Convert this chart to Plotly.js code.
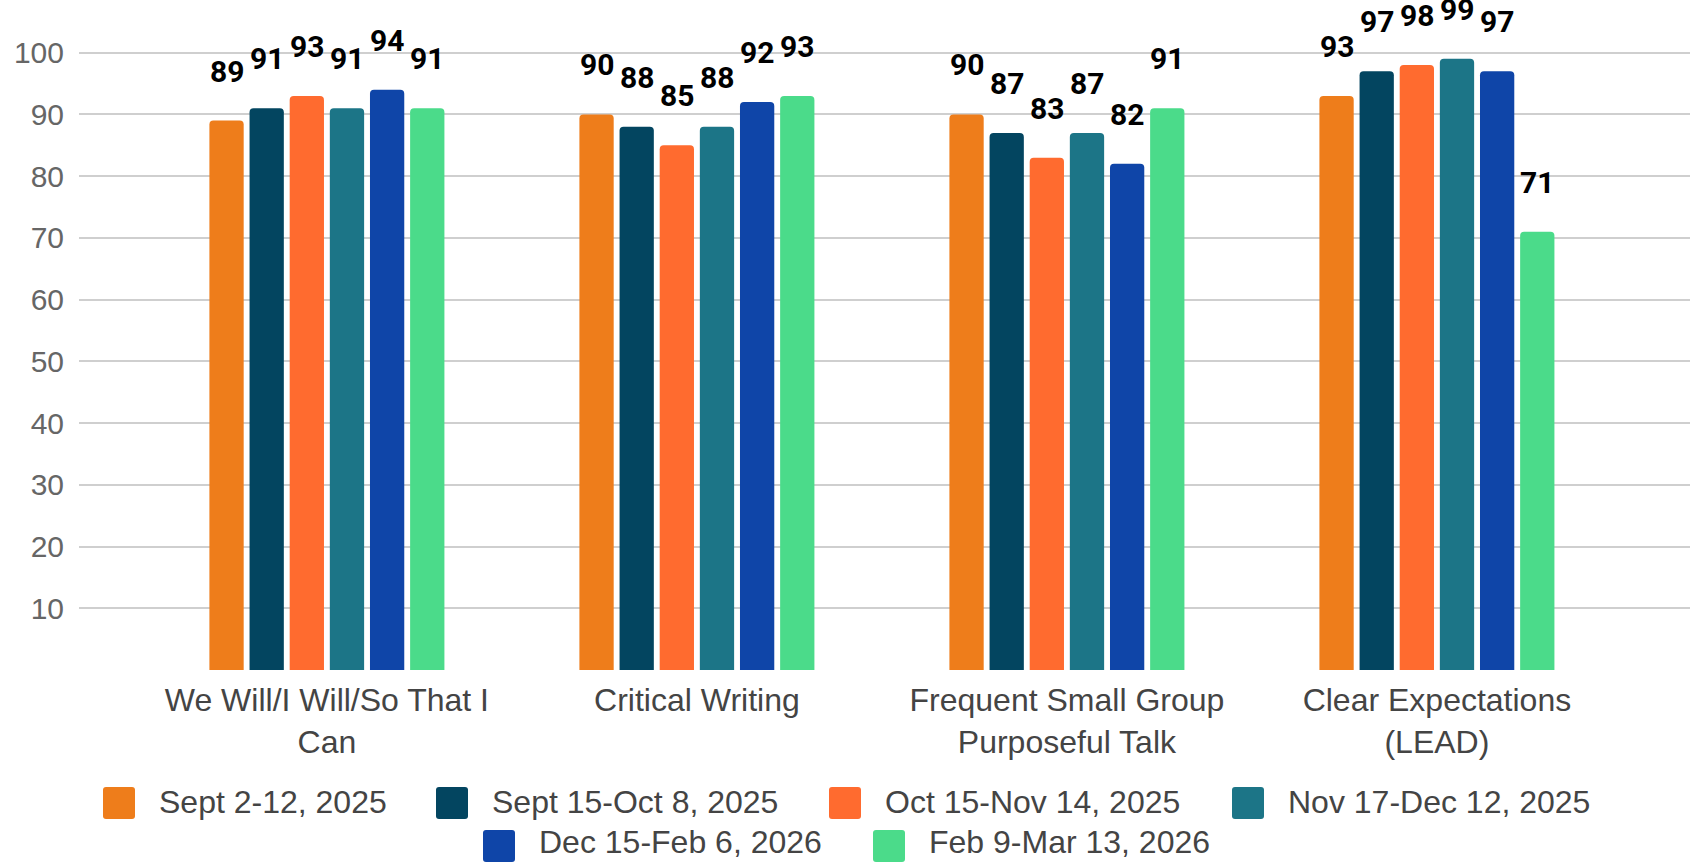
<!DOCTYPE html>
<html>
<head>
<meta charset="utf-8">
<script src="https://cdn.plot.ly/plotly-3.0.1.min.js"></script>
<style>html,body{margin:0;padding:0;background:#fff;}#chart{width:1694px;height:862px;}</style>
</head>
<body>
<div id="chart"></div>
<script>
// ---- data ----
const categories = ["We Will/I Will/So That I<br>Can", "Critical Writing", "Frequent Small Group<br>Purposeful Talk", "Clear Expectations<br>(LEAD)"];
const seriesNames = ["Sept 2-12, 2025", "Sept 15-Oct 8, 2025", "Oct 15-Nov 14, 2025", "Nov 17-Dec 12, 2025", "Dec 15-Feb 6, 2026", "Feb 9-Mar 13, 2026"];
const sept2_12 = [89, 90, 90, 93];
const sept15_oct8 = [91, 88, 87, 97];
const oct15_nov14 = [93, 85, 83, 98];
const nov17_dec12 = [91, 88, 87, 99];
const dec15_feb6 = [94, 92, 82, 97];
const feb9_mar13 = [91, 93, 91, 71];
const yTicks = [10, 20, 30, 40, 50, 60, 70, 80, 90, 100];

// ---- style ----
const seriesValues = [sept2_12, sept15_oct8, oct15_nov14, nov17_dec12, dec15_feb6, feb9_mar13];
const colors = ["#EE7D1B", "#034560", "#FF6B2F", "#1C7587", "#0F45A8", "#4BDB8A"];
const W = 1694, H = 862;
const mL = 79, mR = 4, mT = 20, mB = 192;
const plotW = W - mL - mR, plotH = H - mT - mB;
const bargap = 0.349, bargroupgap = 0.146;
const nS = seriesNames.length;
const slot = (1 - bargap) / nS;
const axisFont = "Liberation Sans, Arial, sans-serif";

const traces = seriesValues.map((vals, k) => ({
  type: "bar",
  name: seriesNames[k],
  x: categories,
  y: vals,
  marker: {color: colors[k]},
  showlegend: false,
  hoverinfo: "skip"
}));

const annotations = [];
seriesValues.forEach((vals, k) => {
  vals.forEach((v, i) => {
    annotations.push({
      x: i + (k - (nS - 1) / 2) * slot,
      y: v,
      xref: "x", yref: "y",
      text: String(v),
      showarrow: false,
      yanchor: "bottom",
      xanchor: "center",
      yshift: 30,
      font: {family: "Roboto, sans-serif", size: 30, color: "#000", weight: 700}
    });
  });
});

// custom legend (pixel layout -> paper coords)
const px2x = p => (p - mL) / plotW;
const px2y = p => (H - mB - p) / plotH;
const legendSwatchX = [103, 436, 829, 1232, 483, 873];
const legendRow = [0, 0, 0, 0, 1, 1];
const rowSwatchTop = [787, 830];
const sw = 32, rr = 3;
const shapes = [];
function roundRectPath(x0, y0, x1, y1, r) {
  // pixel coords -> paper coords path
  const X = px2x, Y = px2y;
  const pts = [];
  return "M" + X(x0 + r) + "," + Y(y0) +
    " L" + X(x1 - r) + "," + Y(y0) +
    " Q" + X(x1) + "," + Y(y0) + " " + X(x1) + "," + Y(y0 + r) +
    " L" + X(x1) + "," + Y(y1 - r) +
    " Q" + X(x1) + "," + Y(y1) + " " + X(x1 - r) + "," + Y(y1) +
    " L" + X(x0 + r) + "," + Y(y1) +
    " Q" + X(x0) + "," + Y(y1) + " " + X(x0) + "," + Y(y1 - r) +
    " L" + X(x0) + "," + Y(y0 + r) +
    " Q" + X(x0) + "," + Y(y0) + " " + X(x0 + r) + "," + Y(y0) + " Z";
}
seriesNames.forEach((name, k) => {
  const x0 = legendSwatchX[k];
  const top = rowSwatchTop[legendRow[k]];
  shapes.push({
    type: "path", xref: "paper", yref: "paper",
    path: roundRectPath(x0, top, x0 + sw, top + sw, rr),
    fillcolor: colors[k], line: {width: 0}
  });
  const isLast = legendRow[k] === 1;
  annotations.push({
    xref: "paper", yref: "paper",
    x: px2x(x0 + sw + 22),
    y: isLast ? px2y(H) : px2y(top + sw / 2 - 1),
    xanchor: "left", yanchor: isLast ? "bottom" : "middle",
    text: name, showarrow: false,
    font: {family: axisFont, size: 32, color: "#444444"}
  });
});

const layout = {
  width: W, height: H,
  margin: {l: mL, r: mR, t: mT, b: mB, pad: 0},
  paper_bgcolor: "#ffffff",
  plot_bgcolor: "#ffffff",
  barmode: "group",
  bargap: bargap,
  bargroupgap: bargroupgap,
  barcornerradius: 4,
  showlegend: false,
  xaxis: {
    type: "category",
    range: [-0.67, 3.684],
    showgrid: false, zeroline: false, showline: false,
    ticks: "",
    ticklabelstandoff: 8,
    tickfont: {family: axisFont, size: 32, color: "#444444"}
  },
  yaxis: {
    range: [0, plotH / ((H - mB - 52.7) / 100)],
    tickvals: yTicks,
    showgrid: true, gridcolor: "#cfcfcf", gridwidth: 2,
    zeroline: false, showline: false,
    ticks: "",
    ticklabelstandoff: 14,
    tickfont: {family: axisFont, size: 30, color: "#666666"}
  },
  annotations: annotations,
  shapes: shapes
};

Plotly.newPlot("chart", traces, layout, {displayModeBar: false, staticPlot: true});
</script>
</body>
</html>
